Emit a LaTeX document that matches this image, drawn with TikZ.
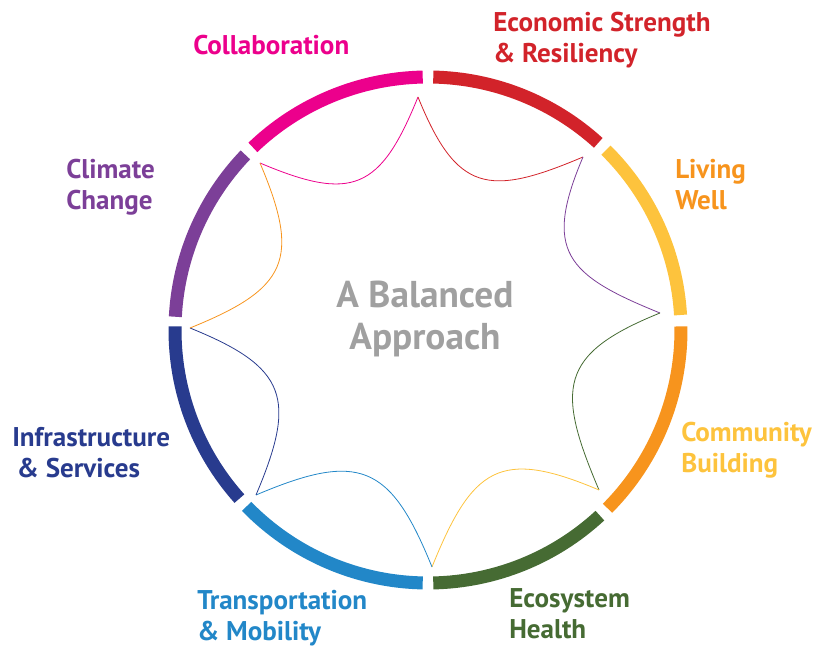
\documentclass[tikz,border=0pt]{standalone}
\usepackage{fontspec}
\setmainfont{PT Sans}
\usepackage{tikz}

\definecolor{rosa}{HTML}{EC008C}
\definecolor{rojo}{HTML}{D2232A}
\definecolor{amarillo}{HTML}{FDC33D}
\definecolor{naranja}{HTML}{F7941D}
\definecolor{verde}{HTML}{466B33}
\definecolor{azul}{HTML}{2287C8}
\definecolor{azuloscuro}{HTML}{283B8E}
\definecolor{morado}{HTML}{7C3F98}
\definecolor{gris}{HTML}{A0A0A0}

\begin{document}
\begin{tikzpicture}[x=0.75pt,y=0.75pt,
		anillo/.style={line width=9.75pt},
		curva/.style={line width=0.6pt, looseness=1.5},
		rotulo/.style={font=\fontsize{20.3}{23.25}\selectfont\bfseries, align=left, anchor=base west, inner sep=0pt}]
		\useasboundingbox (-428,-319) rectangle (405,330);

		%Anillo
		\draw[anillo, rosa] (133.8:253) arc[start angle=133.8, end angle=91.2, radius=253];
		\draw[anillo, rojo] (88.8:253) arc[start angle=88.8, end angle=47.7, radius=253];
		\draw[anillo, amarillo] (45.3:253) arc[start angle=45.3, end angle=3.4, radius=253];
		\draw[anillo, naranja] (0.8:253) arc[start angle=0.8, end angle=-44.8, radius=253];
		\draw[anillo, verde] (-47.2:253) arc[start angle=-47.2, end angle=-88.8, radius=253];
		\draw[anillo, azul] (-91.2:253) arc[start angle=-91.2, end angle=-135.8, radius=253];
		\draw[anillo, azuloscuro] (-138.2:253) arc[start angle=-138.2, end angle=-180.8, radius=253];
		\draw[anillo, morado] (177:253) arc[start angle=177, end angle=136.2, radius=253];

		%Puntas
		\coordinate (punta0) at (-10,233);
		\coordinate (punta1) at (155,173);
		\coordinate (punta2) at (232,17);
		\coordinate (punta3) at (171,-160);
		\coordinate (punta4) at (4,-237);
		\coordinate (punta5) at (-172,-165);
		\coordinate (punta6) at (-238,2);
		\coordinate (punta7) at (-168,167);

		%Curvas
		\draw[curva, rosa] (punta7) to[out=337, in=248] (punta0);
		\draw[curva, rojo] (punta0) to[out=292, in=203] (punta1);
		\draw[curva, morado] (punta1) to[out=247, in=158] (punta2);
		\draw[curva, verde] (punta2) to[out=202, in=113] (punta3);
		\draw[curva, amarillo] (punta3) to[out=157, in=68] (punta4);
		\draw[curva, azul] (punta4) to[out=112, in=23] (punta5);
		\draw[curva, azuloscuro] (punta5) to[out=67, in=338] (punta6);
		\draw[curva, naranja] (punta6) to[out=22, in=293] (punta7);

		%Rotulos
		\node[rotulo, rosa] (rotulo0) at (-235,275) {Collaboration};
		\node[rotulo, rojo] (rotulo1) at (65,267) {Economic Strength\\\& Resiliency};
		\node[rotulo, naranja] (rotulo2) at (247,120) {Living\\Well};
		\node[rotulo, amarillo] (rotulo3) at (253,-143) {Community\\Building};
		\node[rotulo, verde] (rotulo4) at (81,-309) {Ecosystem\\Health};
		\node[rotulo, azul] (rotulo5) at (-231,-311) {Transportation\\\& Mobility};
		\node[rotulo, azuloscuro] (rotulo6) at (-416,-148) {Infrastructure\\\hspace*{3.5pt}\& Services};
		\node[rotulo, morado] (rotulo7) at (-362,120) {Climate\\Change};
		\node[gris, font=\fontsize{28}{32}\selectfont\bfseries, align=center, anchor=base, inner sep=0pt] (titulo) at (-3,-20) {A Balanced\\Approach};
\end{tikzpicture}
\end{document}
